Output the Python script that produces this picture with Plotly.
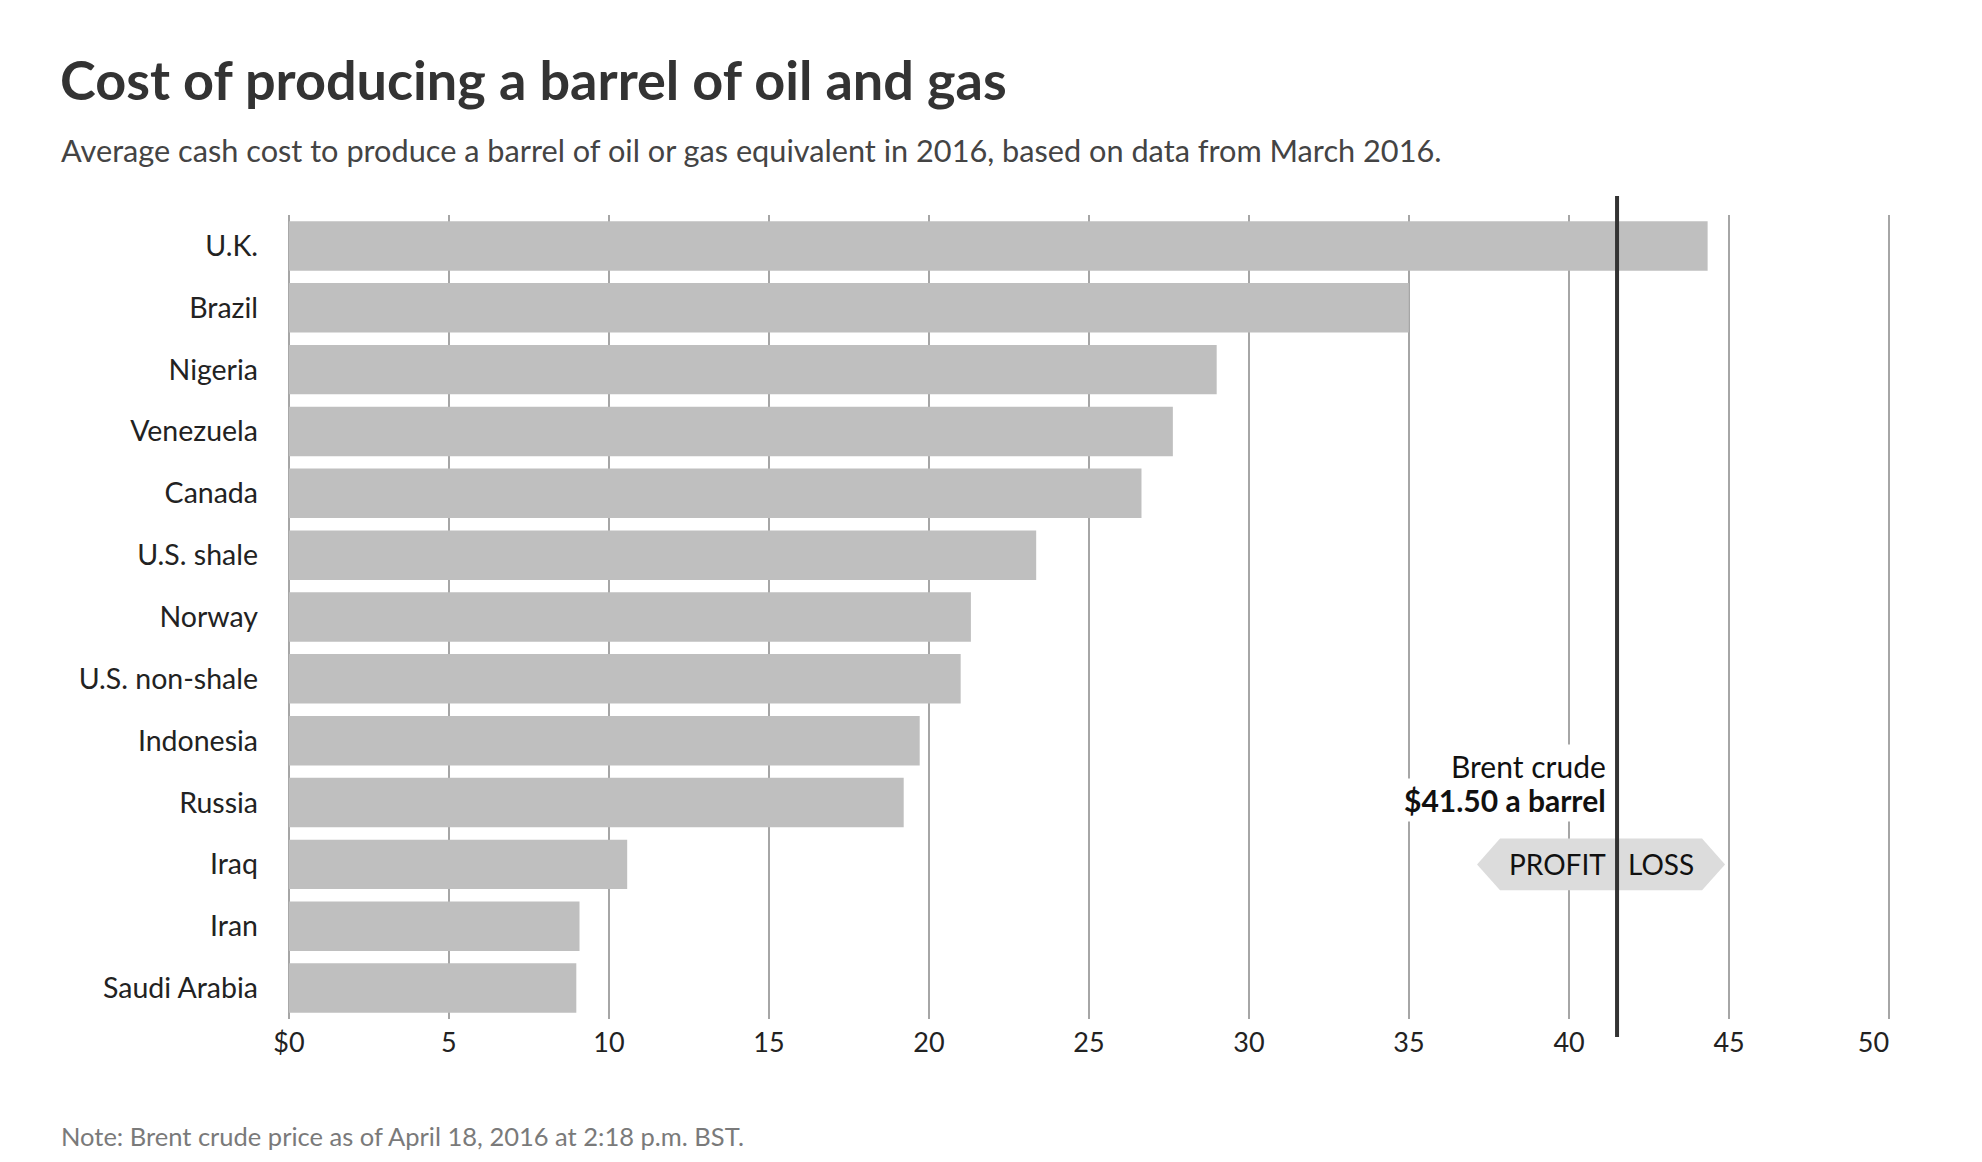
import plotly.graph_objects as go

# ---- data ----
countries = ["U.K.", "Brazil", "Nigeria", "Venezuela", "Canada", "U.S. shale", "Norway",
             "U.S. non-shale", "Indonesia", "Russia", "Iraq", "Iran", "Saudi Arabia"]
cost = [44.33, 34.99, 28.99, 27.62, 26.64, 23.35, 21.31, 20.99, 19.71, 19.21, 10.57, 9.08, 8.98]
x_ticks = [0, 5, 10, 15, 20, 25, 30, 35, 40, 45, 50]
x_ticktext = ["$0", "5", "10", "15", "20", "25", "30", "35", "40", "45", "50\u2007\u2007"]
brent_price = 41.5

title = "Cost of producing a barrel of oil and gas"
subtitle = "Average cash cost to produce a barrel of oil or gas equivalent in 2016, based on data from March 2016."
note = "Note: Brent crude price as of April 18, 2016 at 2:18 p.m. BST."

FONT = "Lato"
W, H = 1982, 1162
X0_PX, X50_PX = 289, 1889          # pixel positions of 0 and 50
PAD = 0.06                          # small range padding so edge gridlines show
ppu = (X50_PX - X0_PX) / 50.0
ML = X0_PX - PAD * ppu
MR = W - (X50_PX + PAD * ppu)
MT, MB = 215, 1162 - 1019
PH = H - MT - MB
PW = W - ML - MR


def py(px):
    """pixel y from top -> paper y"""
    return (H - MB - px) / PH


def pxx(px):
    return (px - ML) / PW


def dx(px):
    """pixel x -> data x"""
    return (px - X0_PX) / ppu


idx = list(range(len(countries)))
n = len(countries)
row_px = PH / n


def dy(px):
    """pixel y -> data y (row index)"""
    return (px - MT) / row_px - 0.5


fig = go.Figure()

iraq = countries.index("Iraq")
ax_l, ax_r = dx(1477), dx(1725)
ax_il, ax_ir = dx(1500), dx(1702)
arrow_x = [ax_l, ax_il, ax_ir, ax_r, ax_ir, ax_il, ax_l]
arrow_y = [iraq, iraq - 0.42, iraq - 0.42, iraq, iraq + 0.42, iraq + 0.42, iraq]

fig.add_trace(go.Bar(
    x=cost, y=idx, orientation="h",
    marker=dict(color="#bfbfbf", line=dict(width=0)),
    width=0.8, hoverinfo="x+text", text=countries, textposition="none",
))

fig.add_trace(go.Scatter(
    x=arrow_x, y=arrow_y, mode="lines", fill="toself",
    fillcolor="#dcdcdc", line=dict(width=0, color="#dcdcdc"), hoverinfo="skip",
))

fig.update_layout(
    width=W, height=H,
    margin=dict(l=ML, r=MR, t=MT, b=MB, pad=0),
    paper_bgcolor="white", plot_bgcolor="white",
    showlegend=False,
    font=dict(family=FONT, size=28, color="#222"),
    xaxis=dict(
        range=[-PAD, 50 + PAD], tickvals=x_ticks, ticktext=x_ticktext,
        showgrid=True, gridcolor="#a6a6a6", gridwidth=2,
        zeroline=False, showline=False,
        ticks="", ticklabelstandoff=5,
        tickfont=dict(size=27, color="#222"),
    ),
    yaxis=dict(
        range=[n - 0.5, -0.5],
        tickvals=idx, ticktext=countries,
        showgrid=False, zeroline=False, showline=False,
        ticks="", ticklabelstandoff=28,
        tickfont=dict(size=28.5, color="#222"),
    ),
    shapes=[
        dict(type="line", xref="x", yref="paper", x0=brent_price, x1=brent_price,
             y0=py(1037), y1=py(196), line=dict(color="#333333", width=4), layer="above"),
    ],
)

ann = []
ann.append(dict(text="<b>" + title + "</b>", xref="paper", yref="paper",
                x=pxx(58), y=py(79), xanchor="left", yanchor="middle", showarrow=False,
                font=dict(family=FONT, size=54, color="#333333")))
ann.append(dict(text=subtitle, xref="paper", yref="paper",
                x=pxx(59), y=py(151), xanchor="left", yanchor="middle", showarrow=False,
                font=dict(family=FONT, size=30.7, color="#444444")))
ann.append(dict(text=note, xref="paper", yref="paper",
                x=pxx(59), y=py(1136), xanchor="left", yanchor="middle", showarrow=False,
                font=dict(family=FONT, size=25.5, color="#7a7a7a")))
ann.append(dict(text="Brent crude", xref="x", yref="y",
                x=dx(1610), y=dy(766), xanchor="right", yanchor="middle", align="right",
                showarrow=False, bgcolor="white", borderpad=3,
                font=dict(family=FONT, size=30, color="#111")))
ann.append(dict(text="<b>$41.50 a barrel</b>", xref="x", yref="y",
                x=dx(1610), y=dy(800), xanchor="right", yanchor="middle", align="right",
                showarrow=False, bgcolor="white", borderpad=3,
                font=dict(family=FONT, size=30, color="#111")))
ann.append(dict(text="PROFIT", xref="x", yref="y", x=dx(1608), y=iraq,
                xanchor="right", yanchor="middle", showarrow=False,
                font=dict(family=FONT, size=28, color="#111")))
ann.append(dict(text="LOSS", xref="x", yref="y", x=dx(1626), y=iraq,
                xanchor="left", yanchor="middle", showarrow=False,
                font=dict(family=FONT, size=28, color="#111")))
fig.update_layout(annotations=ann)

fig.write_html("out.html", config={"displayModeBar": False},
               post_script="document.body.style.margin='0';document.body.style.overflow='hidden';")
